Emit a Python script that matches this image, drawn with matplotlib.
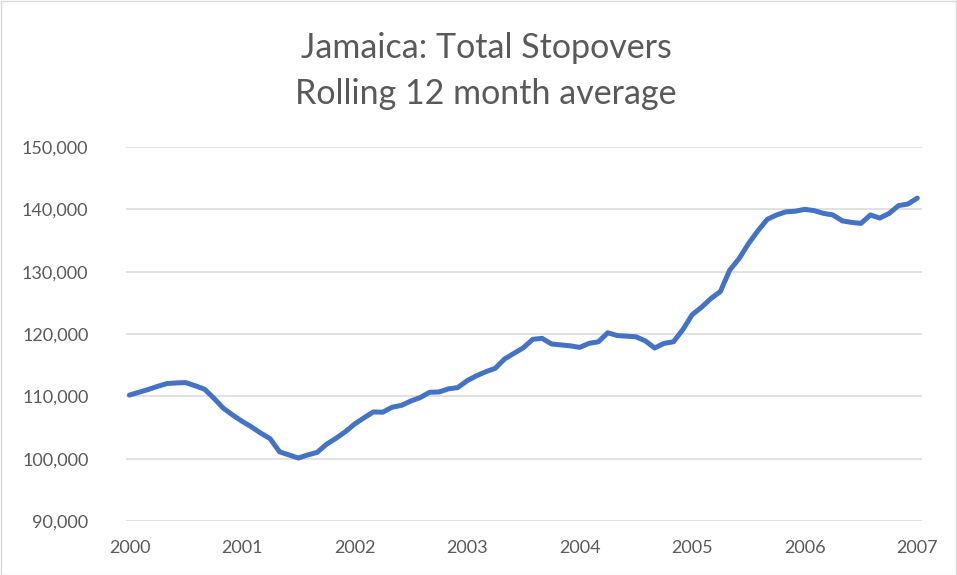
import numpy as np
import matplotlib
matplotlib.use("Agg")
import matplotlib.pyplot as plt
import matplotlib.ticker as ticker
from matplotlib.patches import Rectangle

# rolling 12 month average of total stopovers, monthly Jan 2000 .. Jan 2007
stopovers = [
    110200, 110650, 111100, 111600, 112050, 112150, 112200, 111700, 111150, 109700,
    108100, 107000, 106000, 105100, 104100, 103200, 101100, 100600, 100100, 100600,
    101000, 102300, 103250, 104300, 105550, 106550, 107500, 107450, 108250, 108550,
    109250, 109800, 110650, 110700, 111200, 111400, 112500, 113300, 113950, 114500,
    116000, 116900, 117800, 119150, 119300, 118400, 118250, 118100, 117850, 118500,
    118750, 120200, 119750, 119650, 119550, 118900, 117750, 118500, 118750, 120700,
    123100, 124300, 125700, 126800, 130250, 132100, 134500, 136550, 138400, 139100,
    139600, 139700, 140000, 139800, 139350, 139100, 138150, 137900, 137750, 139100,
    138600, 139350, 140600, 140850, 141800,
]
year_labels = ["2000", "2001", "2002", "2003", "2004", "2005", "2006", "2007"]
y_ticks = [90000, 100000, 110000, 120000, 130000, 140000, 150000]

title_lines = ["Jamaica: Total Stopovers", "Rolling 12 month average"]

plt.rcParams['font.family'] = ['Lato', 'DejaVu Sans']

months = np.arange(len(stopovers))

fig = plt.figure(figsize=(9.57, 5.75), dpi=100)
W, H = 957, 575
ax = fig.add_axes([126 / W, 1 - 521 / H, (922 - 126) / W, (521 - 147) / H])

ax.plot(months, stopovers, color='#4472C4', lw=3.6, solid_capstyle='round',
        solid_joinstyle='round', zorder=3)

ax.set_ylim(90000, 150000)
ax.set_xlim(-0.37, 84.5)
ax.set_yticks(y_ticks)
ax.yaxis.set_major_formatter(ticker.FuncFormatter(lambda v, p: "{:,.0f}".format(v)))
ax.set_xticks(np.arange(0, 85, 12))
ax.set_xticklabels(year_labels)

ax.grid(axis='y', color='#d9d9d9', lw=1.1, zorder=0)
for s in ax.spines.values():
    s.set_visible(False)
ax.tick_params(axis='y', length=0, pad=27, labelsize=13, labelcolor='#595959')
ax.tick_params(axis='x', length=0, pad=14, labelsize=13, labelcolor='#595959')

# two title lines placed separately
for line, ypix in zip(title_lines, [48, 94]):
    fig.text(486 / W, 1 - ypix / H, line, ha='center', va='center', fontsize=24.5,
             color='#595959')

# chart border
fig.patches.append(Rectangle((0.5 / W, 0.5 / H), 1 - 1.5 / W, 1 - 1.5 / H,
                             transform=fig.transFigure, fill=False,
                             edgecolor='#d9d9d9', lw=1))

fig.savefig("out.png", dpi=100)
